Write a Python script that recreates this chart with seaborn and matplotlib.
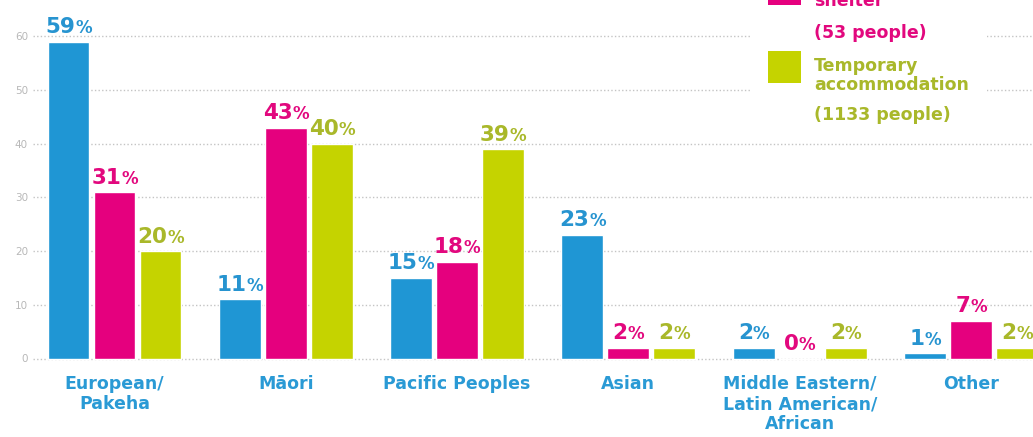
import numpy as np
import pandas as pd
import seaborn as sns
import matplotlib.pyplot as plt
from matplotlib.patches import Rectangle
from matplotlib.transforms import offset_copy

# ---- data -------------------------------------------------------------
categories = ["European/\nPakeha", "Māori", "Pacific Peoples", "Asian",
              "Middle Eastern/\nLatin American/\nAfrican", "Other"]
groups = ["Rough sleeping", "Emergency shelter", "Temporary accommodation"]
rough_sleeping = [59, 11, 15, 23, 2, 1]
emergency_shelter = [31, 43, 18, 2, 0, 7]
temporary_accommodation = [20, 40, 39, 2, 2, 2]
y_ticks = [0, 10, 20, 30, 40, 50, 60]

shelter_label = ["Emergency", "shelter", "(53 people)"]
temporary_label = ["Temporary", "accommodation", "(1133 people)"]

colors = ["#1F96D4", "#E5007E", "#C5D300"]
text_colors = ["#2794D0", "#E2087E", "#A9B82A"]
BLUE_TEXT = "#2A9AD5"

df = pd.DataFrame({
    "category": categories * 3,
    "group": [g for g in groups for _ in categories],
    "value": rough_sleeping + emergency_shelter + temporary_accommodation,
})

# ---- figure / axes geometry (pixels) ----------------------------------
W, H = 1033, 437
DPI = 100
sns.set_theme(style="white")
plt.rcParams["font.family"] = ["DejaVu Sans"]

fig = plt.figure(figsize=(W / DPI, H / DPI), dpi=DPI)
fig.patch.set_facecolor("white")

zero_px = 358.5          # vertical pixel of value 0
ppu = 5.37               # pixels per percentage point
y_bottom_val = -1.0
y_top_val = zero_px / ppu
axes_bottom_px = zero_px - y_bottom_val * ppu
left_px = 33
x0_px, step_px = 114.5, 171.3   # first group centre and group spacing

ax = fig.add_axes([left_px / W, (H - axes_bottom_px) / H,
                   1 - left_px / W, axes_bottom_px / H])

sns.barplot(data=df, x="category", y="value", hue="group",
            order=categories, hue_order=groups, palette=colors,
            saturation=1, width=0.806, gap=0.09, legend=False,
            errorbar=None, ax=ax)

ax.set_xlim((left_px - x0_px) / step_px, (W - x0_px) / step_px)
ax.set_ylim(y_bottom_val, y_top_val)
ax.set_yticks(y_ticks)
ax.set_yticklabels([str(t) for t in y_ticks])
ax.set_xlabel("")
ax.set_ylabel("")
for s in ax.spines.values():
    s.set_visible(False)
ax.yaxis.grid(True, linestyle=(0, (1, 1.6)), color="#C4C4C4", linewidth=1.0)
ax.xaxis.grid(False)
ax.set_axisbelow(True)
ax.tick_params(axis="y", length=0, pad=3.6, labelsize=7.5, labelcolor="#B8B8B8")
ax.tick_params(axis="x", length=0, pad=8, labelsize=12.5, labelcolor=BLUE_TEXT)
for lbl in ax.get_xticklabels():
    lbl.set_fontweight("bold")
    lbl.set_linespacing(1.15)

# ---- value labels: large number with a smaller percent sign ------------
fig.canvas.draw()
renderer = fig.canvas.get_renderer()
NUM_SIZE, PCT_SIZE = 15.5, 12


def text_width(s, size):
    t = fig.text(0, 0, s, fontsize=size, fontweight="bold")
    w = t.get_window_extent(renderer).width
    t.remove()
    return w


for container, values, col in zip(ax.containers,
                                  [rough_sleeping, emergency_shelter, temporary_accommodation],
                                  text_colors):
    for patch, v in zip(container.patches, values):
        cx = patch.get_x() + patch.get_width() / 2
        num = f"{v}"
        wn = text_width(num, NUM_SIZE)
        wp = text_width("%", PCT_SIZE)
        total = wn + wp
        lift = 8.5
        tr_num = offset_copy(ax.transData, fig=fig, x=-total / 2, y=lift, units="dots")
        tr_pct = offset_copy(ax.transData, fig=fig, x=-total / 2 + wn, y=lift, units="dots")
        ax.text(cx, v, num, transform=tr_num, ha="left", va="baseline",
                fontsize=NUM_SIZE, fontweight="bold", color=col, clip_on=False)
        ax.text(cx, v, "%", transform=tr_pct, ha="left", va="baseline",
                fontsize=PCT_SIZE, fontweight="bold", color=col, clip_on=False)


# ---- legend panel -------------------------------------------------------
def fx(x):
    return x / W


def fy(y):
    return 1 - y / H


def add_rect(x1, y1, x2, y2, color, z):
    fig.add_artist(Rectangle((fx(x1), fy(y2)), (x2 - x1) / W, (y2 - y1) / H,
                             transform=fig.transFigure, facecolor=color,
                             edgecolor="none", zorder=z))


add_rect(750, -60, 987, 134, "white", 5)
add_rect(768, -28, 801, 5, colors[1], 6)
add_rect(768, 50.7, 801, 83.3, colors[2], 6)

LEG_SIZE = 12.5
for txt, base in zip(shelter_label, [-14, 6, 38]):
    fig.text(fx(814), fy(base), txt, fontsize=LEG_SIZE, fontweight="bold",
             color=text_colors[1], ha="left", va="baseline", zorder=7)
for txt, base in zip(temporary_label, [71, 90, 120]):
    fig.text(fx(814), fy(base), txt, fontsize=LEG_SIZE, fontweight="bold",
             color=text_colors[2], ha="left", va="baseline", zorder=7)

fig.savefig("out.png", dpi=DPI, facecolor="white")
